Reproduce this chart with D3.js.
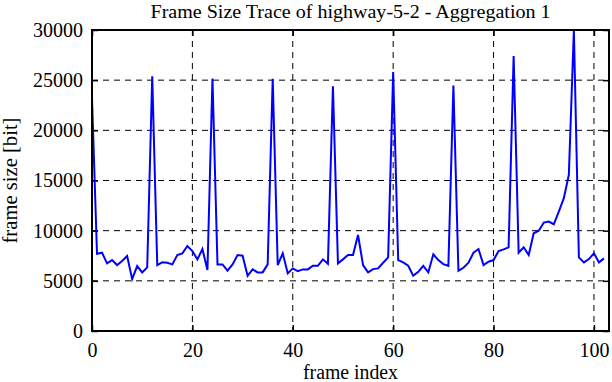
<!DOCTYPE html>
<html><head><meta charset="utf-8">
<script src="https://cdn.jsdelivr.net/npm/d3@7"></script>
<style>body{margin:0;background:#fff}svg{display:block}text{font-family:"Liberation Serif","Times New Roman",serif;fill:#000}</style>
</head><body><svg id="c" width="612" height="382"></svg>
<script>
const frameSizes = [23200,7700,7800,6740,7070,6570,6970,7470,5170,6470,5840,6340,25400,6570,6840,
6800,6640,7570,7740,8470,7970,7140,8170,6070,25170,6640,6640,6010,6640,7570,
7500,5500,6140,5840,5840,6640,25140,6570,7740,5740,6240,5970,6140,6140,6500,
6500,7140,6700,24400,6740,7140,7570,7570,9570,6570,5840,6170,6240,6800,7340,
25800,7070,6840,6500,5500,5900,6500,5840,7640,7070,6670,6500,24470,6010,6300,
6800,7800,8170,6570,6900,7070,7970,8140,8340,27400,7800,8340,7570,9740,10000,
10800,10900,10640,11900,13240,15570,30000,7340,6840,7170,7740,6840,7240];
const xTicks = [0,20,40,60,80,100];
const yTicks = [0,5000,10000,15000,20000,25000,30000];
const titleText = "Frame Size Trace of highway-5-2 - Aggregation 1";
const xLabel = "frame index";
const yLabel = "frame size [bit]";

const svg = d3.select("#c");
const L=92,R=609,T=30,B=331;
const x = d3.scaleLinear().domain([0,103]).range([L,R]);
const y = d3.scaleLinear().domain([0,30000]).range([B,T]);

// grid
const g = svg.append("g");
g.selectAll(".vg").data(xTicks.filter(d=>d>0)).join("line")
 .attr("x1",d=>x(d)).attr("x2",d=>x(d)).attr("y1",T).attr("y2",B)
 .attr("stroke","#000").attr("stroke-width",1).attr("stroke-dasharray","6,5");
g.selectAll(".hg").data(yTicks.filter(d=>d>0&&d<30000)).join("line")
 .attr("x1",L).attr("x2",R).attr("y1",d=>y(d)).attr("y2",d=>y(d))
 .attr("stroke","#000").attr("stroke-width",1).attr("stroke-dasharray","6,5");

// axes with inward ticks
const tk=6;
svg.append("g").attr("transform",`translate(0,${B})`)
 .call(d3.axisBottom(x).tickValues(xTicks).tickSize(-tk).tickPadding(tk+6).tickFormat(d3.format("d")))
 .call(s=>{s.select(".domain").remove();s.selectAll("line").attr("stroke-width",1.5);s.selectAll("text").attr("font-size",20).attr("font-family","Liberation Serif");});
svg.append("g").attr("transform",`translate(0,${T})`)
 .call(d3.axisTop(x).tickValues(xTicks).tickSize(-tk).tickFormat(""))
 .call(s=>{s.select(".domain").remove();s.selectAll("line").attr("stroke-width",1.5);});
svg.append("g").attr("transform",`translate(${L},0)`)
 .call(d3.axisLeft(y).tickValues(yTicks).tickSize(-tk).tickPadding(9).tickFormat(d3.format("d")))
 .call(s=>{s.select(".domain").remove();s.selectAll("line").attr("stroke-width",1.5);s.selectAll("text").attr("font-size",20).attr("font-family","Liberation Serif");});
svg.append("g").attr("transform",`translate(${R},0)`)
 .call(d3.axisRight(y).tickValues(yTicks).tickSize(-tk).tickFormat(""))
 .call(s=>{s.select(".domain").remove();s.selectAll("line").attr("stroke-width",1.5);});

// clip + line
svg.append("clipPath").attr("id","cp").append("rect").attr("x",L).attr("y",T).attr("width",R-L).attr("height",B-T);
svg.append("path").datum(frameSizes).attr("clip-path","url(#cp)")
 .attr("fill","none").attr("stroke","#0000ff").attr("stroke-width",2).attr("stroke-linejoin","miter")
 .attr("d",d3.line().x((d,i)=>x(i)).y(d=>y(d)));

// border
svg.append("rect").attr("x",L).attr("y",T).attr("width",R-L).attr("height",B-T)
 .attr("fill","none").attr("stroke","#000").attr("stroke-width",2);

svg.append("text").attr("x",(L+R)/2).attr("y",18).attr("text-anchor","middle").attr("font-size",19)
 .attr("textLength",400).attr("lengthAdjust","spacingAndGlyphs").text(titleText);
svg.append("text").attr("x",(L+R)/2).attr("y",379).attr("text-anchor","middle").attr("font-size",20)
 .attr("textLength",95).attr("lengthAdjust","spacingAndGlyphs").text(xLabel);
svg.append("text").attr("transform",`translate(17,${(T+B)/2}) rotate(-90)`).attr("text-anchor","middle").attr("font-size",20)
 .attr("textLength",126).attr("lengthAdjust","spacingAndGlyphs").text(yLabel);
</script></body></html>
